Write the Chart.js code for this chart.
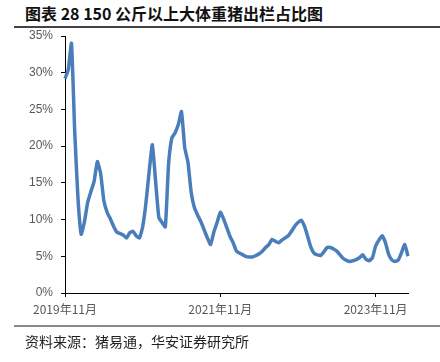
<!DOCTYPE html>
<html>
<head>
<meta charset="utf-8">
<script src="https://cdn.jsdelivr.net/npm/chart.js@4"></script>
<style>
    body { margin: 0; background: #fff; }
    #wrap { position: relative; width: 440px; height: 362px; overflow: hidden; }
    #title {
        position: absolute; left: 25px; top: 1px;
        font: bold 16px "Noto Sans CJK SC", sans-serif; color: #111;
    }
    .rule { position: absolute; left: 14px; right: 0; }
    #rule1 { top: 26px; height: 2px; background: #444; }
    #rule2 { top: 325px; height: 2px; background: #8a8a8a; }
    #source {
        position: absolute; left: 25px; top: 331px;
        font: 14px "Noto Sans CJK SC", sans-serif; color: #222;
    }
    canvas { position: absolute; left: 0; top: 0; }
</style>
</head>
<body>
<div id="wrap">
    <div id="title">图表 28 150 公斤以上大体重猪出栏占比图</div>
    <div class="rule" id="rule1"></div>
    <canvas id="chart" width="440" height="362"></canvas>
    <div class="rule" id="rule2"></div>
    <div id="source">资料来源：猪易通，华安证券研究所</div>
</div>
<script>
    // half-month observations, 2019-11 (first half) to 2024-04
    const shareValues = [
        29.2, 30.4, 34.0, 22.0, 13.0, 8.0, 9.7, 12.3, 13.8, 15.2,
        17.9, 16.3, 12.6, 11.0, 10.1, 9.1, 8.3, 8.1, 7.9, 7.5,
        8.2, 8.4, 7.8, 7.5, 9.0, 12.2, 16.5, 20.2, 15.2, 10.3,
        9.6, 9.0, 17.5, 21.1, 21.8, 22.9, 24.7, 19.8, 17.8, 13.7,
        11.6, 10.6, 9.7, 8.6, 7.5, 6.6, 8.3, 9.6, 11.0, 10.1,
        8.9, 7.7, 6.8, 5.7, 5.4, 5.2, 4.95, 4.9, 4.9, 5.1,
        5.35, 5.7, 6.2, 6.6, 7.3, 7.05, 6.85, 7.2, 7.5, 7.8,
        8.4, 9.1, 9.6, 9.9, 9.1, 7.7, 6.2, 5.4, 5.2, 5.1,
        5.6, 6.2, 6.2, 6.0, 5.7, 5.2, 4.7, 4.45, 4.3, 4.4,
        4.55, 4.8, 5.2, 4.6, 4.4, 4.8, 6.4, 7.2, 7.8, 6.9,
        5.3, 4.5, 4.3, 4.5, 5.5, 6.6, 5.0
    ];

    const startYear = 2019;
    const startMonth = 11;
    const tickLabels = ['2019年11月', '2021年11月', '2023年11月'];
    const yTicks = [0, 5, 10, 15, 20, 25, 30, 35];

    // category labels: two per month
    const periods = [];
    for (let i = 0; i < shareValues.length; i++) {
        const m = startMonth - 1 + Math.floor(i / 2);
        const y = startYear + Math.floor(m / 12);
        const mo = (m % 12) + 1;
        periods.push(y + '年' + mo + '月' + (i % 2 === 0 ? '上' : '下'));
    }
    const tickIndex = tickLabels.map(t => periods.indexOf(t + '上'));

    new Chart(document.getElementById('chart'), {
        type: 'line',
        data: {
            labels: periods,
            datasets: [{
                data: shareValues,
                borderColor: '#4a7ebb',
                borderWidth: 3.5,
                pointRadius: 0,
                tension: 0.15,
                fill: false
            }]
        },
        options: {
            responsive: false,
            animation: false,
            layout: { padding: { left: 0, top: 36, right: 32, bottom: 39 } },
            plugins: { legend: { display: false }, tooltip: { enabled: false } },
            scales: {
                x: {
                    type: 'category',
                    offset: false,
                    afterBuildTicks: (axis) => {
                        axis.ticks = tickIndex.map(v => ({ value: v }));
                    },
                    afterFit: (axis) => { axis.height = 30; },
                    border: { display: true, color: '#000', width: 1 },
                    grid: { drawOnChartArea: false, drawTicks: true, tickLength: 4, tickColor: '#000' },
                    ticks: {
                        autoSkip: false,
                        maxRotation: 0,
                        padding: 5,
                        color: '#595959',
                        font: { family: '"Noto Sans CJK SC", sans-serif', size: 12 },
                        callback: function(v) { return tickLabels[tickIndex.indexOf(v)]; }
                    }
                },
                y: {
                    min: 0,
                    max: 35,
                    afterBuildTicks: (axis) => { axis.ticks = yTicks.map(v => ({ value: v })); },
                    afterFit: (axis) => { axis.width = 65; },
                    border: { display: true, color: '#000', width: 1 },
                    grid: { drawOnChartArea: false, drawTicks: true, tickLength: 4, tickColor: '#000' },
                    ticks: {
                        padding: 8,
                        color: '#595959',
                        font: { family: '"Liberation Sans", sans-serif', size: 12 },
                        callback: v => v + '%'
                    }
                }
            }
        }
    });
</script>
</body>
</html>
